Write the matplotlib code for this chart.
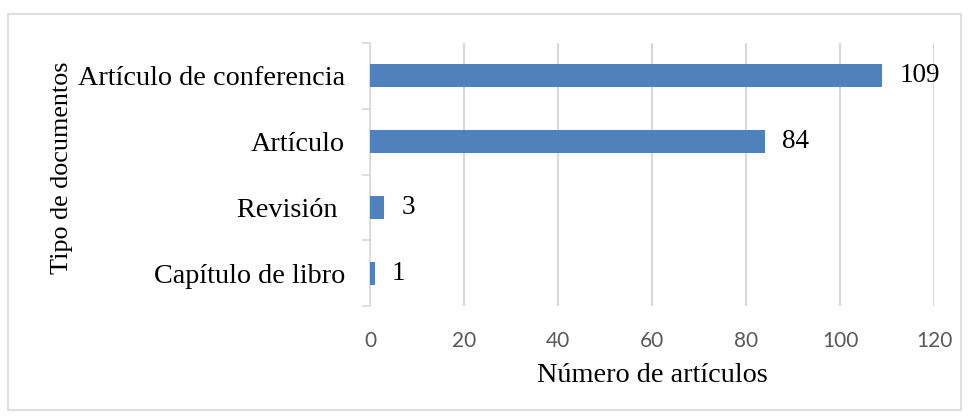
import matplotlib.pyplot as plt
from matplotlib.patches import Rectangle

# data (top to bottom as shown)
categories = ["Artículo de conferencia", "Artículo", "Revisión ", "Capítulo de libro"]
counts = [109, 84, 3, 1]
x_ticks = [0, 20, 40, 60, 80, 100, 120]

serif = ["Liberation Serif", "DejaVu Serif"]
sans = ["Lato", "DejaVu Sans"]
fs = 20.3

fig = plt.figure(figsize=(9.69, 4.16), dpi=100)
ax = fig.add_axes([370 / 969, 1 - 306 / 416, (934 - 370) / 969, (306 - 43) / 416])

# outer chart border
fig.patches.append(Rectangle((8 / 969, 1 - 410 / 416), 953 / 969, 396 / 416,
                             transform=fig.transFigure, fill=False,
                             edgecolor="#d9d9d9", linewidth=1.2))

ypos = list(range(len(categories)))[::-1]
ax.barh(ypos, counts, height=0.35, color="#4f81bd", zorder=3)

for y, v in zip(ypos, counts):
    ax.text(v + 3.7, y, str(v), va="center", ha="left",
            fontsize=19.5, family=serif, color="black")

ax.set_xlim(0, 120)
ax.set_ylim(-0.5, len(categories) - 0.5)
ax.set_xticks(x_ticks)
ax.set_xticklabels([str(t) for t in x_ticks], family=sans, fontsize=15, color="#595959")
ax.set_yticks(ypos)
ax.set_yticklabels(categories, family=serif, fontsize=fs)
ax.tick_params(axis="y", length=0, pad=18)
ax.tick_params(axis="x", length=0, pad=18)

# category boundary ticks on y axis
ax.set_yticks([i - 0.5 for i in range(len(categories) + 1)], minor=True)
ax.tick_params(axis="y", which="minor", length=6, color="#d9d9d9", width=1.2)

ax.grid(axis="x", color="#d9d9d9", linewidth=1.5, zorder=0)
for s in ["top", "right", "bottom"]:
    ax.spines[s].set_visible(False)
ax.spines["left"].set_color("#d9d9d9")
ax.spines["left"].set_linewidth(1.2)

ax.set_xlabel("Número de artículos", family=serif, fontsize=fs, va="center")
ax.xaxis.set_label_coords(0.5, -0.265)
ax.set_ylabel("Tipo de documentos", family=serif, fontsize=18.8, va="center")
ax.yaxis.set_label_coords(-0.546, 0.527)

fig.savefig("out.png", dpi=100)
